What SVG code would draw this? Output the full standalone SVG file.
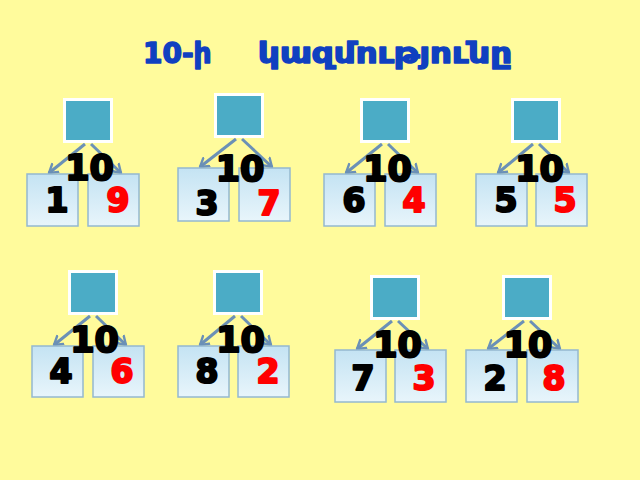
<svg xmlns="http://www.w3.org/2000/svg" width="640" height="480" viewBox="0 0 640 480">
<defs>
<linearGradient id="boxg" x1="0" y1="0" x2="0" y2="1">
<stop offset="0" stop-color="#c4e3f3"/>
<stop offset="1" stop-color="#e8f5fb"/>
</linearGradient>
<marker id="ah" markerUnits="userSpaceOnUse" markerWidth="14" markerHeight="14" refX="9" refY="6" orient="auto" viewBox="0 0 14 12">
<path d="M1,1 L9,6 L1,11" fill="none" stroke="#6b90b6" stroke-width="2.4" stroke-linecap="round" stroke-linejoin="round"/>
</marker>
</defs>
<style>
.sq{fill:#4bacc6;stroke:#ffffff;stroke-width:3}
.bx{fill:url(#boxg);stroke:#94b8cf;stroke-width:1.5}
.ar{fill:none;stroke:#6b90b6;stroke-width:3;marker-end:url(#ah)}
.ten{font-family:"DejaVu Sans",Verdana,sans-serif;font-weight:bold;font-size:35px;fill:#000;stroke:#000;stroke-width:2.2;stroke-linejoin:round;text-anchor:middle}
.dk{font-family:"DejaVu Sans",Verdana,sans-serif;font-weight:bold;font-size:33px;fill:#000;stroke:#000;stroke-width:2.2;stroke-linejoin:round;text-anchor:middle}
.dr{font-family:"DejaVu Sans",Verdana,sans-serif;font-weight:bold;font-size:33px;fill:#ff0000;stroke:#ff0000;stroke-width:2.2;stroke-linejoin:round;text-anchor:middle}
.title{font-family:"DejaVu Sans","Noto Sans",sans-serif;font-weight:bold;font-size:28px;fill:#1040c0;stroke:#1040c0;stroke-width:1.5;stroke-linejoin:round}
</style>
<rect width="640" height="480" fill="#fffb9c"/>
<text class="title" x="143" y="63">10-ի <tspan x="258" textLength="254" lengthAdjust="spacingAndGlyphs">կազմությունը</tspan></text>

<g id="connectors">
<line class="ar" x1="85" y1="144" x2="49" y2="173"/>
<line class="ar" x1="91" y1="144" x2="121" y2="173"/>
<line class="ar" x1="236" y1="139" x2="200" y2="167"/>
<line class="ar" x1="242" y1="139" x2="272" y2="167"/>
<line class="ar" x1="382" y1="144" x2="346" y2="173"/>
<line class="ar" x1="388" y1="144" x2="418" y2="173"/>
<line class="ar" x1="533" y1="144" x2="498" y2="173"/>
<line class="ar" x1="539" y1="144" x2="569" y2="173"/>
<line class="ar" x1="90" y1="316" x2="54" y2="345"/>
<line class="ar" x1="96" y1="316" x2="126" y2="345"/>
<line class="ar" x1="235" y1="316" x2="200" y2="345"/>
<line class="ar" x1="241" y1="316" x2="271" y2="345"/>
<line class="ar" x1="392" y1="321" x2="357" y2="349"/>
<line class="ar" x1="398" y1="321" x2="428" y2="349"/>
<line class="ar" x1="524" y1="321" x2="488" y2="349"/>
<line class="ar" x1="530" y1="321" x2="560" y2="349"/>
</g>

<g id="t1-left"><rect class="bx" x="27" y="174" width="51" height="52"/><text class="dk" x="57" y="212">1</text></g>
<g id="t1-right"><rect class="bx" x="88" y="174" width="51" height="52"/><text class="dr" x="118" y="212">9</text></g>
<g id="t2-left"><rect class="bx" x="178" y="168" width="51" height="53"/><text class="dk" x="207" y="215">3</text></g>
<g id="t2-right"><rect class="bx" x="239" y="168" width="51" height="53"/><text class="dr" x="269" y="215">7</text></g>
<g id="t3-left"><rect class="bx" x="324" y="174" width="51" height="52"/><text class="dk" x="354" y="212">6</text></g>
<g id="t3-right"><rect class="bx" x="385" y="174" width="51" height="52"/><text class="dr" x="414" y="212">4</text></g>
<g id="t4-left"><rect class="bx" x="476" y="174" width="51" height="52"/><text class="dk" x="506" y="212">5</text></g>
<g id="t4-right"><rect class="bx" x="536" y="174" width="51" height="52"/><text class="dr" x="565" y="212">5</text></g>
<g id="t5-left"><rect class="bx" x="32" y="346" width="51" height="51"/><text class="dk" x="61" y="383">4</text></g>
<g id="t5-right"><rect class="bx" x="93" y="346" width="51" height="51"/><text class="dr" x="122" y="383">6</text></g>
<g id="t6-left"><rect class="bx" x="178" y="346" width="51" height="51"/><text class="dk" x="207" y="383">8</text></g>
<g id="t6-right"><rect class="bx" x="238" y="346" width="51" height="51"/><text class="dr" x="268" y="383">2</text></g>
<g id="t7-left"><rect class="bx" x="335" y="350" width="51" height="52"/><text class="dk" x="363" y="390">7</text></g>
<g id="t7-right"><rect class="bx" x="395" y="350" width="51" height="52"/><text class="dr" x="424" y="390">3</text></g>
<g id="t8-left"><rect class="bx" x="466" y="350" width="51" height="52"/><text class="dk" x="495" y="390">2</text></g>
<g id="t8-right"><rect class="bx" x="527" y="350" width="51" height="52"/><text class="dr" x="554" y="390">8</text></g>

<g id="t1-top"><rect class="sq" x="64.5" y="99.5" width="47" height="42"/><text class="ten" x="89.5" y="180">10</text></g>
<g id="t2-top"><rect class="sq" x="215.5" y="94.5" width="47" height="42"/><text class="ten" x="240" y="181">10</text></g>
<g id="t3-top"><rect class="sq" x="361.5" y="99.5" width="47" height="42"/><text class="ten" x="387.5" y="181">10</text></g>
<g id="t4-top"><rect class="sq" x="512.5" y="99.5" width="47" height="42"/><text class="ten" x="539.5" y="181">10</text></g>
<g id="t5-top"><rect class="sq" x="69.5" y="271.5" width="47" height="42"/><text class="ten" x="94.5" y="352">10</text></g>
<g id="t6-top"><rect class="sq" x="214.5" y="271.5" width="47" height="42"/><text class="ten" x="240.5" y="352">10</text></g>
<g id="t7-top"><rect class="sq" x="371.5" y="276.5" width="47" height="42"/><text class="ten" x="397.5" y="357">10</text></g>
<g id="t8-top"><rect class="sq" x="503.5" y="276.5" width="47" height="42"/><text class="ten" x="528" y="357">10</text></g>
</svg>
